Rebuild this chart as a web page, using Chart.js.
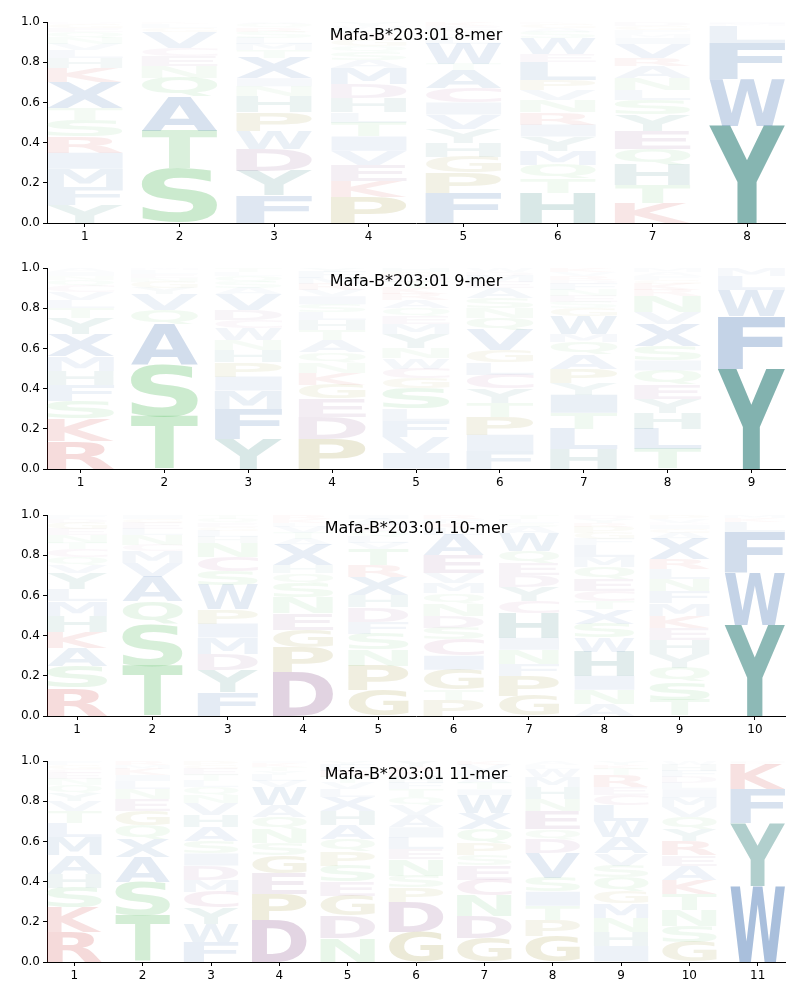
<!DOCTYPE html>
<html>
<head>
<meta charset="utf-8">
<script src="https://cdn.jsdelivr.net/npm/chart.js@4.4.1/dist/chart.umd.min.js"></script>
<style>
  body { margin: 0; background: #fff; width: 800px; height: 1000px; position: relative; overflow: hidden; }
  canvas { position: absolute; left: 0; }
</style>
</head>
<body>
<canvas id="logo8" width="800" height="246" style="top:0px"></canvas>
<canvas id="logo9" width="800" height="246" style="top:246px"></canvas>
<canvas id="logo10" width="800" height="246" style="top:493px"></canvas>
<canvas id="logo11" width="800" height="246" style="top:739px"></canvas>
<script>
// Titres des panneaux
const titles = ['Mafa-B*203:01 8-mer', 'Mafa-B*203:01 9-mer', 'Mafa-B*203:01 10-mer', 'Mafa-B*203:01 11-mer'];

// Fréquences par position, de bas en haut : [lettre, fréquence]
const mer8 = [
  [['Y',.09],['F',.09],['M',.09],['I',.08],['R',.08],['S',.08],['T',.06],['X',.13],['K',.07],['H',.05],['L',.04],['V',.03],['N',.03],['Q',.03],['E',.02],['G',.02],['D',.01]],
  [['S',.27],['T',.19],['A',.17],['Q',.09],['N',.06],['E',.05],['C',.04],['V',.08],['G',.02],['L',.02],['K',.01]],
  [['F',.14],['Y',.12],['D',.11],['W',.09],['P',.09],['H',.08],['N',.05],['I',.04],['X',.10],['T',.04],['M',.03],['L',.03],['S',.03],['R',.02],['Q',.02],['A',.01]],
  [['P',.13],['K',.08],['E',.08],['V',.07],['I',.07],['T',.07],['L',.05],['H',.07],['D',.07],['M',.08],['A',.04],['S',.04],['Q',.03],['G',.03],['R',.03],['F',.02],['W',.02],['Y',.02]],
  [['F',.15],['P',.10],['G',.08],['H',.07],['Y',.07],['V',.07],['I',.06],['C',.07],['A',.09],['T',.03],['W',.10],['L',.03],['S',.02],['N',.02],['E',.02],['K',.02]],
  [['H',.15],['T',.07],['Q',.07],['M',.07],['Y',.07],['I',.06],['R',.06],['N',.06],['V',.05],['P',.05],['L',.09],['E',.04],['W',.08],['S',.03],['A',.02],['G',.02],['K',.01]],
  [['K',.10],['T',.09],['H',.10],['Q',.08],['E',.09],['Y',.08],['S',.07],['L',.05],['N',.06],['A',.06],['R',.04],['V',.07],['I',.03],['M',.02],['F',.02],['G',.02],['D',.02]],
  [['Y',.485],['W',.23],['F',.18],['L',.085],['M',.01],['I',.01]]
];
const mer9 = [
  [['R',.14],['K',.11],['S',.09],['F',.08],['H',.07],['M',.07],['X',.11],['Y',.08],['T',.05],['L',.04],['V',.04],['C',.03],['Q',.03],['N',.02],['I',.02],['A',.02]],
  [['T',.26],['S',.26],['A',.20],['Q',.07],['V',.08],['Y',.03],['G',.03],['N',.02],['E',.02],['L',.02],['M',.01]],
  [['Y',.15],['F',.15],['M',.09],['I',.07],['P',.07],['H',.06],['N',.05],['W',.06],['C',.04],['D',.05],['V',.08],['A',.03],['S',.03],['Q',.03],['L',.02],['T',.02]],
  [['P',.15],['D',.11],['E',.09],['G',.07],['K',.06],['N',.05],['Q',.05],['A',.06],['T',.05],['H',.05],['L',.04],['S',.04],['I',.04],['V',.03],['R',.03],['M',.03],['F',.03],['Y',.02]],
  [['I',.08],['V',.08],['F',.08],['L',.06],['S',.10],['G',.05],['C',.05],['W',.05],['N',.05],['Y',.07],['M',.05],['E',.04],['Q',.04],['A',.04],['R',.03],['K',.03],['T',.03],['D',.03],['P',.02],['H',.02]],
  [['F',.09],['I',.08],['P',.09],['T',.07],['Y',.07],['C',.07],['L',.06],['G',.06],['V',.10],['Q',.06],['N',.05],['S',.05],['A',.05],['E',.03],['M',.03],['D',.02],['W',.02]],
  [['H',.10],['L',.10],['T',.08],['I',.09],['Y',.06],['P',.07],['A',.07],['Q',.06],['M',.04],['W',.09],['G',.04],['S',.03],['E',.03],['N',.03],['F',.03],['D',.02],['R',.02],['V',.02],['K',.02]],
  [['T',.10],['L',.10],['H',.08],['Y',.07],['E',.07],['Q',.07],['I',.05],['S',.07],['X',.11],['V',.06],['N',.08],['R',.03],['K',.03],['G',.02],['F',.02],['A',.02],['M',.02]],
  [['Y',.50],['F',.26],['W',.13],['L',.07],['M',.04]]
];
const mer10 = [
  [['R',.14],['S',.11],['A',.09],['K',.08],['H',.08],['M',.07],['L',.06],['Y',.08],['V',.04],['Q',.04],['C',.04],['T',.03],['N',.04],['E',.03],['G',.03],['D',.02],['F',.02]],
  [['T',.25],['S',.21],['Q',.11],['A',.12],['V',.07],['M',.06],['C',.03],['N',.05],['L',.03],['E',.03],['G',.02],['I',.02]],
  [['F',.12],['Y',.11],['D',.08],['M',.08],['I',.07],['P',.07],['W',.12],['S',.07],['C',.07],['N',.07],['H',.03],['L',.03],['G',.02],['E',.02],['Q',.02],['T',.02]],
  [['D',.22],['P',.12],['G',.09],['E',.08],['N',.08],['S',.07],['Q',.05],['H',.04],['X',.10],['A',.03],['T',.03],['V',.03],['L',.02],['K',.02],['R',.02]],
  [['G',.13],['P',.12],['N',.08],['S',.08],['F',.06],['D',.07],['H',.06],['X',.09],['R',.06],['T',.08],['V',.03],['L',.03],['Q',.03],['E',.03],['A',.03],['I',.02]],
  [['P',.08],['T',.05],['G',.10],['I',.07],['C',.08],['S',.06],['D',.06],['N',.06],['Q',.05],['M',.05],['V',.05],['E',.09],['A',.10],['L',.03],['K',.03],['F',.02],['R',.02]],
  [['G',.10],['P',.10],['F',.06],['N',.07],['I',.06],['H',.12],['C',.06],['Y',.07],['D',.06],['E',.06],['Q',.06],['W',.09],['A',.03],['S',.02],['L',.02],['T',.02]],
  [['A',.06],['N',.07],['I',.07],['H',.12],['W',.07],['S',.07],['X',.07],['T',.04],['C',.05],['E',.06],['Q',.06],['M',.05],['L',.06],['F',.03],['G',.03],['P',.03],['R',.02],['Y',.02],['D',.02]],
  [['T',.08],['S',.09],['Q',.07],['Y',.07],['H',.07],['E',.06],['K',.06],['M',.06],['F',.06],['N',.06],['L',.05],['R',.05],['X',.10],['A',.03],['G',.02],['I',.02],['D',.01],['V',.02],['P',.02]],
  [['Y',.455],['W',.26],['F',.20],['L',.05],['K',.02],['M',.015]]
];
const mer11 = [
  [['R',.15],['K',.12],['S',.10],['H',.07],['A',.09],['M',.09],['L',.07],['T',.06],['V',.05],['Y',.04],['Q',.04],['N',.03],['E',.03],['C',.02],['G',.02],['F',.02]],
  [['T',.23],['S',.17],['A',.12],['X',.09],['Q',.07],['G',.07],['E',.06],['N',.05],['L',.04],['I',.03],['K',.03],['M',.02],['R',.02]],
  [['F',.10],['W',.09],['Y',.08],['C',.08],['M',.06],['D',.07],['I',.06],['S',.06],['A',.07],['H',.06],['V',.06],['N',.04],['Q',.04],['L',.03],['T',.03],['E',.03],['G',.02],['P',.02]],
  [['D',.21],['P',.13],['E',.10],['G',.09],['S',.06],['N',.07],['Q',.06],['A',.06],['W',.09],['V',.03],['L',.03],['Y',.02],['T',.02],['K',.02],['I',.01]],
  [['N',.12],['D',.11],['G',.10],['E',.07],['S',.08],['P',.07],['Q',.06],['A',.07],['H',.07],['X',.07],['L',.04],['V',.03],['T',.03],['R',.03],['F',.03],['Y',.02]],
  [['G',.15],['D',.15],['P',.07],['S',.06],['N',.08],['E',.05],['L',.06],['I',.05],['A',.06],['V',.05],['Q',.04],['T',.04],['F',.03],['H',.03],['K',.03],['R',.02],['Y',.03]],
  [['G',.12],['D',.11],['N',.10],['C',.08],['E',.07],['S',.05],['P',.06],['Q',.07],['X',.08],['W',.09],['I',.03],['T',.03],['A',.03],['L',.03],['V',.03],['K',.02]],
  [['G',.13],['P',.08],['T',.07],['I',.07],['S',.07],['V',.12],['D',.07],['Q',.05],['E',.09],['N',.06],['H',.06],['M',.05],['W',.04],['L',.02],['A',.02]],
  [['I',.08],['H',.07],['N',.07],['M',.07],['G',.06],['Q',.07],['S',.06],['V',.06],['A',.08],['W',.08],['L',.08],['C',.05],['E',.04],['R',.06],['T',.03],['K',.02],['Y',.02]],
  [['G',.10],['S',.08],['N',.08],['T',.08],['K',.07],['A',.07],['E',.05],['R',.07],['Y',.06],['Q',.06],['V',.05],['M',.05],['I',.04],['L',.03],['D',.03],['F',.03],['H',.03],['W',.02]],
  [['W',.38],['Y',.31],['F',.17],['K',.12],['R',.01],['H',.01]]
];

// Étiquettes des positions
const ticks8 = ['1','2','3','4','5','6','7','8'];
const ticks9 = ['1','2','3','4','5','6','7','8','9'];
const ticks10 = ['1','2','3','4','5','6','7','8','9','10'];
const ticks11 = ['1','2','3','4','5','6','7','8','9','10','11'];

// Couleurs par famille d'acides aminés
const groupRgb = {
  green: [94, 190, 103], olive: [150, 140, 40], blue: [66, 114, 177],
  teal: [46, 127, 121], purple: [142, 87, 142], red: [200, 50, 50], pink: [170, 80, 140]
};
const letterGroup = {
  S: 'green', T: 'green', N: 'green', Q: 'green',
  G: 'olive', P: 'olive',
  A: 'blue', F: 'blue', W: 'blue', M: 'blue', I: 'blue', L: 'blue', V: 'blue', X: 'blue',
  Y: 'teal', H: 'teal',
  D: 'purple', E: 'purple',
  K: 'red', R: 'red',
  C: 'pink'
};

function letterColor(ch, freq) {
  const c = groupRgb[letterGroup[ch]] || [120, 120, 120];
  const a = Math.min(1, freq * 1.2);
  return `rgba(${c[0]},${c[1]},${c[2]},${a.toFixed(3)})`;
}

// Plugin : dessine chaque lettre étirée dans le rectangle de sa barre
const logoPlugin = {
  id: 'logo',
  afterDatasetsDraw(chart, args, opts) {
    const ctx = chart.ctx;
    const area = chart.chartArea;
    ctx.save();
    ctx.beginPath();
    ctx.rect(area.left, area.top, area.right - area.left, area.bottom - area.top);
    ctx.clip();
    ctx.font = 'bold 200px "DejaVu Sans"';
    ctx.textAlign = 'left';
    ctx.textBaseline = 'alphabetic';
    chart.data.datasets.forEach((ds, k) => {
      const meta = chart.getDatasetMeta(k);
      meta.data.forEach((bar, j) => {
        const ch = ds.letters[j];
        if (!ch) return;
        const p = bar.getProps(['x', 'y', 'base', 'width'], true);
        const top = Math.min(p.y, p.base);
        const h = Math.abs(p.base - p.y);
        if (h < 0.3) return;
        const m = ctx.measureText(ch);
        const gw = m.actualBoundingBoxLeft + m.actualBoundingBoxRight;
        const gh = m.actualBoundingBoxAscent + m.actualBoundingBoxDescent;
        ctx.save();
        ctx.translate(p.x - p.width / 2, top);
        ctx.scale(p.width / gw, h / gh);
        ctx.fillStyle = letterColor(ch, ds.data[j].y);
        ctx.fillText(ch, m.actualBoundingBoxLeft, m.actualBoundingBoxAscent);
        ctx.restore();
      });
    });
    ctx.restore();

    // Titre à l'intérieur du graphique
    ctx.save();
    ctx.font = '16px "DejaVu Sans"';
    ctx.fillStyle = '#000';
    ctx.textAlign = 'center';
    ctx.textBaseline = 'middle';
    ctx.fillText(opts.title, (area.left + area.right) / 2, area.top + 14);
    ctx.restore();
  }
};

function drawLogo(canvasId, columns, tickLabels, title) {
  const depth = Math.max(...columns.map(c => c.length));
  const datasets = [];
  for (let k = 0; k < depth; k++) {
    datasets.push({
      data: columns.map((col, j) => ({ x: j + 1, y: col[k] ? col[k][1] : 0 })),
      letters: columns.map(col => col[k] ? col[k][0] : null),
      backgroundColor: 'rgba(0,0,0,0)',
      borderWidth: 0,
      barPercentage: 0.8,
      categoryPercentage: 1.0
    });
  }
  const n = columns.length;
  const ctx = document.getElementById(canvasId).getContext('2d');
  return new Chart(ctx, {
    type: 'bar',
    data: { datasets: datasets },
    options: {
      responsive: false,
      animation: false,
      layout: { padding: { top: 22, right: 15, left: 0, bottom: 0 } },
      plugins: {
        legend: { display: false },
        tooltip: { enabled: false },
        logo: { title: title }
      },
      scales: {
        x: {
          type: 'linear',
          stacked: true,
          offset: false,
          min: 0.6,
          max: n + 0.4,
          afterBuildTicks: s => { s.ticks = tickLabels.map((t, i) => ({ value: i + 1 })); },
          afterFit: s => { s.height = 23; },
          ticks: {
            autoSkip: false,
            maxRotation: 0,
            color: '#000',
            padding: 3,
            font: { family: 'DejaVu Sans', size: 12 },
            callback: v => tickLabels[Math.round(v) - 1]
          },
          grid: { offset: false, drawOnChartArea: false, drawTicks: true, tickLength: 4, color: '#000' },
          border: { display: true, color: '#000', width: 1 }
        },
        y: {
          stacked: true,
          min: 0,
          max: 1,
          afterFit: s => { s.width = 47; },
          ticks: {
            stepSize: 0.2,
            color: '#000',
            padding: 3,
            font: { family: 'DejaVu Sans', size: 12 },
            callback: v => v.toFixed(1)
          },
          grid: { drawOnChartArea: false, drawTicks: true, tickLength: 4, color: '#000' },
          border: { display: true, color: '#000', width: 1 }
        }
      }
    },
    plugins: [logoPlugin]
  });
}

drawLogo('logo8', mer8, ticks8, titles[0]);
drawLogo('logo9', mer9, ticks9, titles[1]);
drawLogo('logo10', mer10, ticks10, titles[2]);
drawLogo('logo11', mer11, ticks11, titles[3]);
</script>
</body>
</html>
